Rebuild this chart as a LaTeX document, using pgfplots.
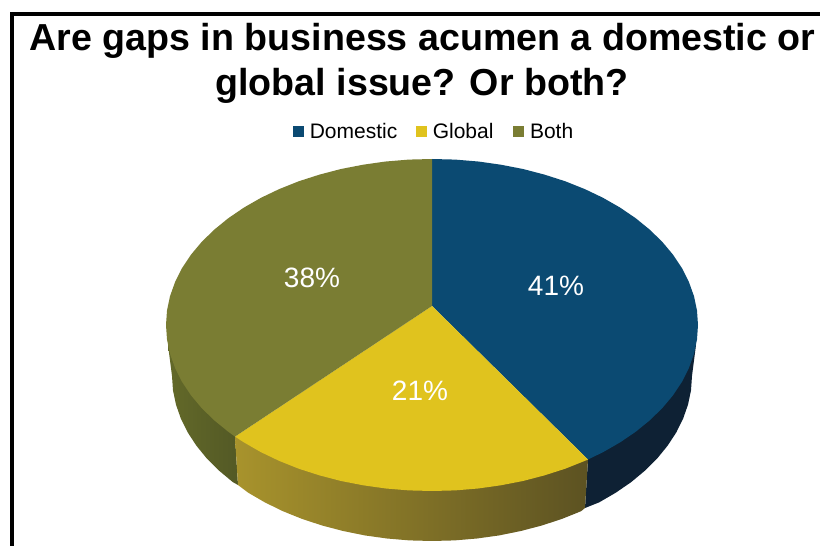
\documentclass[border=0pt]{standalone}
\usepackage{pgfplots}
\pgfplotsset{compat=1.18}
\usepackage{fontspec}
\setmainfont{Liberation Sans}
\definecolor{domestic}{HTML}{0B4A72}
\definecolor{global}{HTML}{E0C31E}
\definecolor{both}{HTML}{7A7D33}
\definecolor{domesticside}{HTML}{0E2134}
\definecolor{bothsideA}{HTML}{636929}
\definecolor{bothsideB}{HTML}{535925}
\definecolor{globalsideA}{HTML}{A8932C}
\definecolor{globalsideB}{HTML}{72642A}
\definecolor{globalsideC}{HTML}{5C5222}
\begin{document}
\begin{tikzpicture}
\begin{axis}[
  scale only axis, width=820pt, height=546pt,
  xmin=-432, xmax=388, ymin=-221, ymax=325,
  hide axis, clip=true, no markers,
  legend style={draw=none, fill=none, at={(axis cs:2.5,193)}, anchor=center,
    legend columns=3, font=\fontsize{21}{24}\selectfont,
    inner xsep=0pt, inner ysep=0pt,
    /tikz/column 1/.style={column sep=3pt},
    /tikz/column 2/.style={column sep=15.5pt},
    /tikz/column 3/.style={column sep=3pt},
    /tikz/column 4/.style={column sep=16.5pt},
    /tikz/column 5/.style={column sep=3pt},
    nodes={inner xsep=3pt, inner ysep=1pt}},
  legend image code/.code={\fill[#1,draw=none] (0pt,-5.5pt) rectangle (11pt,5.5pt);},
]
% frame along the top and left
\addplot[black, line width=3.8pt, forget plot] coordinates {(-420,-221) (-420,311) (388,311)};

% side wall: Domestic
\addplot[fill=domesticside, draw=none, forget plot] coordinates {
 (264,-20) (260,-51) (259,-65.4) (256,-79.7) (251.1,-93.7) (244.3,-107.4) (235.6,-120.7)
 (225.2,-133.5) (213,-145.6) (199.2,-157.1) (183.8,-167.7) (167.1,-177.4) (153,-183)
 (156,-134.5) (230,-30)} --cycle;
% side wall: Both
\addplot[left color=bothsideA, right color=bothsideB, draw=none, forget plot] coordinates {
 (-264,-20) (-260,-51) (-259,-65.4) (-256,-79.7) (-251.1,-93.7) (-244.3,-107.4) (-235.6,-120.7)
 (-225.2,-133.5) (-213,-145.6) (-199.2,-157.1) (-194,-160) (-197,-111.6) (-230,-30)} --cycle;
% side wall: Global
\addplot[left color=globalsideA, middle color=globalsideB, right color=globalsideC, draw=none, forget plot] coordinates {
 (153,-183) (149.1,-186.2) (130,-193.9) (109.9,-200.5) (88.9,-206) (67.3,-210.4) (45.1,-213.5)
 (22.7,-215.4) (0,-216) (-22.7,-215.4) (-45.1,-213.5) (-67.3,-210.4) (-88.9,-206) (-109.9,-200.5)
 (-130,-193.9) (-149.1,-186.2) (-167.1,-177.4) (-183.8,-167.7) (-194,-160)
 (-197,-111.6) (0,-120) (156,-134.5)} --cycle;

% top faces
\addplot[fill=domestic, draw=none] coordinates {
 (0,19) (0,166) (23.2,165.4) (46.2,163.5) (68.8,160.3) (91,156) (112.4,150.4) (133,143.8)
 (152.6,136) (171,127.2) (188.1,117.4) (203.8,106.7) (217.9,95.2) (230.4,83) (241.1,70.2)
 (250,56.8) (256.9,43) (262,28.8) (265,14.5) (266,0) (265,-14.5) (262,-28.8) (256.9,-43)
 (250,-56.8) (241.1,-70.2) (230.4,-83) (217.9,-95.2) (203.8,-106.7) (188.1,-117.4)
 (171,-127.2) (156,-134.5)} --cycle;
\addlegendentry{Domestic}
\addplot[fill=global, draw=none] coordinates {
 (0,19) (156,-134.5) (152.6,-136) (133,-143.8) (112.4,-150.4) (91,-156) (68.8,-160.3)
 (46.2,-163.5) (23.2,-165.4) (0,-166) (-23.2,-165.4) (-46.2,-163.5) (-68.8,-160.3) (-91,-156)
 (-112.4,-150.4) (-133,-143.8) (-152.6,-136) (-171,-127.2) (-188.1,-117.4) (-197,-111.6)} --cycle;
\addlegendentry{Global}
\addplot[fill=both, draw=none] coordinates {
 (0,19) (-197,-111.6) (-203.8,-106.7) (-217.9,-95.2) (-230.4,-83) (-241.1,-70.2) (-250,-56.8)
 (-256.9,-43) (-262,-28.8) (-265,-14.5) (-266,0) (-265,14.5) (-262,28.8) (-256.9,43) (-250,56.8)
 (-241.1,70.2) (-230.4,83) (-217.9,95.2) (-203.8,106.7) (-188.1,117.4) (-171,127.2) (-152.6,136)
 (-133,143.8) (-112.4,150.4) (-91,156) (-68.8,160.3) (-46.2,163.5) (-23.2,165.4) (0,166)} --cycle;
\addlegendentry{Both}

% title
\node[anchor=base, inner sep=0pt, font=\bfseries\fontsize{37.6}{45}\selectfont] at (axis cs:-9.5,274.5) {Are gaps in business acumen a domestic or};
\node[anchor=base, inner sep=0pt, font=\bfseries\fontsize{37.6}{45}\selectfont] at (axis cs:-10,229) {global issue? Or both?};

% percentage labels
\node[anchor=base, inner sep=0pt, text=white, font=\fontsize{28}{32}\selectfont] at (axis cs:124,29) {41\%};
\node[anchor=base, inner sep=0pt, text=white, font=\fontsize{28}{32}\selectfont] at (axis cs:-12,-76) {21\%};
\node[anchor=base, inner sep=0pt, text=white, font=\fontsize{28}{32}\selectfont] at (axis cs:-120,37) {38\%};
\end{axis}
% the page covers the full plotting rectangle
\pgfresetboundingbox
\path[use as bounding box] (current axis.south west) rectangle (current axis.north east);
\end{tikzpicture}
\end{document}
